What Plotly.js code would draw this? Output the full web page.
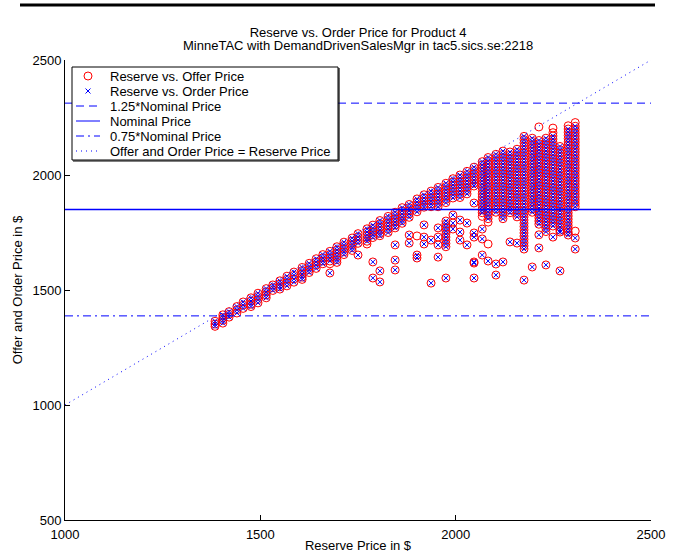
<!DOCTYPE html>
<html><head><meta charset="utf-8">
<script src="https://cdn.plot.ly/plotly-3.0.1.min.js"></script>
<style>html,body{margin:0;padding:0;background:#fff}#chart{width:673px;height:558px}</style>
</head><body><div id="chart"></div>
<script>
// Reserve price of each column of offers
const reserve = [1384,1404,1420,1440,1456,1476,1494,1515,1532,1550,1568,1586,1607,1625,1643,1660,1678,1696,1714,1735,1750,1773,1788,1806,1827,1845,1863,1881,1901,1919,1937,1955,1975,1993,2011,2029,2047,2068,2083,2103,2121,2139,2157,2175,2196,2213,2231,2249,2267,2288,2306];
// Order prices (offers that became orders) per reserve column
const orderPrices = [
 [1364,1352,1342],
 [1392,1380,1368,1356],
 [1406,1394,1382],
 [1428,1414,1400],
 [1448,1434,1420],
 [1466,1452,1438,1428],
 [1486,1472,1458,1444],
 [1506,1492,1478,1466],
 [1522,1510,1498],
 [1540,1526,1514,1504],
 [1560,1546,1532,1518],
 [1578,1564,1548,1534],
 [1598,1584,1570,1556,1546],
 [1616,1602,1588,1576],
 [1636,1622,1608,1594],
 [1654,1640,1626,1614],
 [1668,1654,1640,1626,1574],
 [1688,1674,1660,1646,1632,1620],
 [1708,1694,1680,1666,1654],
 [1726,1712,1698,1684,1672],
 [1745,1731,1717,1703,1652],
 [1766,1752,1738,1724,1712],
 [1782,1768,1754,1740,1728,1622,1552],
 [1802,1788,1774,1760,1746,1736,1583,1535],
 [1820,1806,1792,1778,1764,1750],
 [1838,1824,1810,1796,1782,1770,1696,1630,1587],
 [1858,1844,1830,1816,1802,1790],
 [1872,1858,1844,1830,1816,1739,1704],
 [1896,1882,1868,1854,1840,1652,1639],
 [1914,1900,1886,1872,1860,1783,1730,1700],
 [1930,1916,1902,1888,1874,1862,1717,1530],
 [1946,1932,1918,1904,1890,1876,1862,1770,1730,1696,1643],
 [1964,1950,1936,1922,1908,1894,1880,1800,1786,1772,1758,1744,1730,1716,1702,1688,1552],
 [1984,1970,1956,1942,1928,1914,1900,1826,1791,1765],
 [2000,1986,1972,1958,1944,1930,1916,1902,1804,1752,1717],
 [2016,2002,1988,1974,1960,1946,1932,1918,1791,1696],
 [2034,2020,2006,1992,1978,1964,1952,1878,1748,1730,1622,1617,1552],
 [2058,2044,2030,2016,2002,1988,1974,1960,1946,1932,1918,1904,1890,1876,1862,1848,1836,1765,1722,1652],
 [2076,2062,2048,2034,2020,2006,1992,1978,1964,1950,1936,1922,1908,1894,1880,1866,1852,1838,1824,1810,1626],
 [2090,2076,2062,2048,2034,2020,2006,1992,1978,1964,1950,1936,1922,1908,1894,1880,1866,1852,1838,1613,1565],
 [2104,2090,2076,2062,2048,2034,2020,2006,1992,1978,1964,1950,1936,1922,1908,1894,1880,1866,1852,1838,1824,1810,1622],
 [2100,2086,2072,2058,2044,2030,2016,2002,1988,1974,1960,1946,1932,1918,1904,1890,1876,1862,1848,1836,1709],
 [2112,2098,2084,2070,2056,2042,2028,2014,2000,1986,1972,1958,1944,1930,1916,1902,1888,1874,1860,1846,1832,1818,1704],
 [2168,2154,2140,2126,2112,2098,2084,2070,2056,2042,2028,2014,2000,1986,1972,1958,1944,1930,1916,1902,1888,1874,1860,1846,1832,1818,1804,1790,1776,1762,1748,1734,1720,1706,1692,1678,1543],
 [2160,2146,2132,2118,2104,2090,2076,2062,2048,2034,2020,2006,1992,1978,1964,1950,1936,1922,1908,1894,1880,1866,1852,1838,1600],
 [2150,2136,2122,2108,2094,2080,2066,2052,2038,2024,2010,1996,1982,1968,1954,1940,1926,1912,1898,1884,1870,1856,1842,1828,1814,1800,1786,1740,1683],
 [2160,2146,2132,2118,2104,2090,2076,2062,2048,2034,2020,2006,1992,1978,1964,1950,1936,1922,1908,1894,1880,1866,1852,1838,1824,1810,1796,1782,1768,1754,1609],
 [2170,2156,2142,2128,2114,2100,2086,2072,2058,2044,2030,2016,2002,1988,1974,1960,1946,1932,1918,1904,1890,1876,1862,1848,1834,1820,1806,1792,1778,1730],
 [2124,2110,2096,2082,2068,2054,2040,2026,2012,1998,1984,1970,1956,1942,1928,1914,1900,1886,1872,1858,1844,1830,1816,1802,1788,1774,1760,1752,1583],
 [2200,2186,2172,2158,2144,2130,2116,2102,2088,2074,2060,2046,2032,2018,2004,1990,1976,1962,1948,1934,1920,1906,1892,1878,1864,1850,1836,1822,1808,1794,1780,1766,1752,1739],
 [2212,2198,2184,2170,2156,2142,2128,2114,2100,2086,2072,2058,2044,2030,2016,2002,1988,1974,1960,1946,1932,1918,1904,1890,1876,1862,1726,1678]
];
// Offers that did not become orders
const offerOnlyReserve = [1678,1773,1901,2083,2213,2249,2249,2288,2306,2306,2068,2083];
const offerOnlyPrice   = [1614,1700,1735,1700,2209,2204,2184,2214,2228,1756,1820,1795];
const nominalPrice = 1850;
const lineRange = [1000, 2500];
const seriesNames = ['Reserve vs. Offer Price','Reserve vs. Order Price','1.25*Nominal Price','Nominal Price','0.75*Nominal Price','Offer and Order Price = Reserve Price'];
const titleLines = ['Reserve vs. Order Price for Product 4', 'MinneTAC with DemandDrivenSalesMgr in tac5.sics.se:2218'];

const ordX = [], ordY = [];
reserve.forEach((r, i) => orderPrices[i].forEach(p => { ordX.push(r); ordY.push(p); }));
const offX = ordX.concat(offerOnlyReserve), offY = ordY.concat(offerOnlyPrice);

const blue = '#0000ff', red = '#ff0000';
const dashes = ['8px,5px', 'solid', '8px,4px,2px,4px', '1px,4px'];
const lineWidths = [1, 1.4, 1, 1];
const traces = [
 {type:'scatter', mode:'markers', x:offX, y:offY, name:seriesNames[0], showlegend:false,
  marker:{symbol:'circle-open', size:8, color:red, line:{width:1, color:red}}},
 {type:'scatter', mode:'markers', x:ordX, y:ordY, name:seriesNames[1], showlegend:false,
  marker:{symbol:'x-thin-open', size:5, color:blue, line:{width:1, color:blue}}},
 {type:'scatter', mode:'lines', x:lineRange, y:lineRange.map(() => 1.25*nominalPrice), name:seriesNames[2], showlegend:false,
  line:{color:blue, width:lineWidths[0], dash:dashes[0]}},
 {type:'scatter', mode:'lines', x:lineRange, y:lineRange.map(() => nominalPrice), name:seriesNames[3], showlegend:false,
  line:{color:blue, width:lineWidths[1]}},
 {type:'scatter', mode:'lines', x:lineRange, y:lineRange.map(() => 0.75*nominalPrice), name:seriesNames[4], showlegend:false,
  line:{color:blue, width:lineWidths[2], dash:dashes[2]}},
 {type:'scatter', mode:'lines', x:lineRange, y:lineRange, name:seriesNames[5], showlegend:false,
  line:{color:blue, width:lineWidths[3], dash:dashes[3]}}
];

// Plot area in pixels (for the compact MATLAB-style legend box)
const L = 65, R = 651, T = 60, B = 520;
const px = p => (p - L) / (R - L), py = p => (B - p) / (B - T);
const box = {x0:72, x1:338, y0:67, y1:160};
const rowY = [76, 91, 106, 121, 136, 151];
const symX = 88, sampleX0 = 76, sampleX1 = 100, textX = 108;
const FS = 13;

const shapes = [
 {type:'line', xref:'paper', yref:'paper', x0:px(20), x1:px(655), y0:py(5), y1:py(5), line:{color:'black', width:3}},
 {type:'rect', xref:'paper', yref:'paper', x0:px(box.x0), x1:px(box.x1), y0:py(box.y1), y1:py(box.y0),
  fillcolor:'white', line:{color:'black', width:1}, layer:'above'},
 {type:'line', xref:'paper', yref:'paper', x0:px(box.x1+1), x1:px(box.x1+1), y0:py(box.y0+1), y1:py(box.y1+1), line:{color:'black', width:1.2}, layer:'above'},
 {type:'line', xref:'paper', yref:'paper', x0:px(box.x0+1), x1:px(box.x1+1), y0:py(box.y1+1), y1:py(box.y1+1), line:{color:'black', width:1.2}, layer:'above'},
 {type:'circle', xref:'paper', yref:'paper', xsizemode:'pixel', ysizemode:'pixel', xanchor:px(symX), yanchor:py(rowY[0]),
  x0:-4, x1:4, y0:-4, y1:4, line:{color:red, width:1}, layer:'above'},
 {type:'path', xref:'paper', yref:'paper', xsizemode:'pixel', ysizemode:'pixel', xanchor:px(symX), yanchor:py(rowY[1]),
  path:'M-2.5,-2.5L2.5,2.5M-2.5,2.5L2.5,-2.5', line:{color:blue, width:1}, layer:'above'}
];
for (let k = 0; k < 4; k++) {
  shapes.push({type:'line', xref:'paper', yref:'paper', x0:px(sampleX0), x1:px(sampleX1), y0:py(rowY[k+2]), y1:py(rowY[k+2]),
    line:{color:blue, width:1, dash:dashes[k]}, layer:'above'});
}
const annotations = seriesNames.map((name, k) => ({xref:'paper', yref:'paper', x:px(textX), y:py(rowY[k]),
  xanchor:'left', yanchor:'middle', showarrow:false, text:name, font:{size:FS, color:'black'}}));
annotations.push({xref:'paper', yref:'paper', x:0.5, y:py(46), xanchor:'center', yanchor:'middle', showarrow:false,
  text:titleLines[1], font:{size:FS, color:'black'}});

const axisBase = {showline:true, linecolor:'black', linewidth:1, ticks:'inside', ticklen:5, tickcolor:'black',
  showgrid:false, zeroline:false, tickfont:{size:FS, color:'black'}};
const layout = {
 width:673, height:558,
 margin:{l:L, r:673-R, t:T, b:558-B},
 paper_bgcolor:'white', plot_bgcolor:'white',
 font:{family:'Liberation Sans, Arial, Helvetica, sans-serif', size:FS, color:'black'},
 showlegend:false,
 title:{text:titleLines[0], x:0.5, xref:'paper', xanchor:'center', y:1-32/558, yref:'container', yanchor:'middle', font:{size:FS}},
 xaxis:Object.assign({}, axisBase, {range:[1000,2500], tickvals:[1000,1500,2000,2500], ticktext:['1000','1500','2000','2500'],
   ticklabelstandoff:2, title:{text:'Reserve Price in $', font:{size:FS}, standoff:0}}),
 yaxis:Object.assign({}, axisBase, {range:[500,2500], tickvals:[500,1000,1500,2000,2500], ticktext:['500','1000','1500','2000','2500'],
   title:{text:'Offer and Order Price in $', font:{size:FS}, standoff:6}}),
 shapes:shapes,
 annotations:annotations
};
Plotly.newPlot('chart', traces, layout, {displayModeBar:false, staticPlot:true});
</script></body></html>
